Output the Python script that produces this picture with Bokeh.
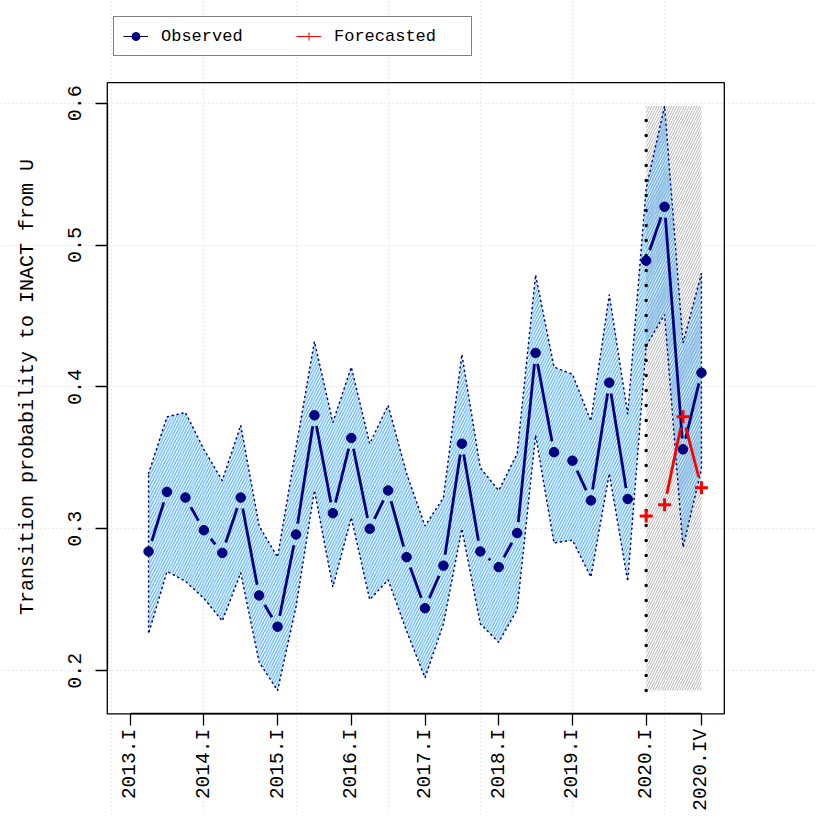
import math
import numpy as np
from bokeh.plotting import figure
from bokeh.models import (Range1d, LinearAxis, FixedTicker, Legend, LegendItem,
                          ColumnDataSource, Grid)
from bokeh.embed import file_html
from bokeh.resources import INLINE

# ---------------- data ----------------
quarter_idx = list(range(2, 33))          # 2013.II ... 2020.IV  (2013.I = 1)
observed = [0.284, 0.326, 0.322, 0.299, 0.283, 0.322, 0.253, 0.231, 0.296, 0.380,
            0.311, 0.364, 0.300, 0.327, 0.280, 0.244, 0.274, 0.360, 0.284, 0.273,
            0.297, 0.424, 0.354, 0.348, 0.320, 0.403, 0.321, 0.489, 0.527, 0.356,
            0.410]
upper = [0.339, 0.379, 0.382, 0.356, 0.334, 0.373, 0.302, 0.280, 0.357, 0.432,
         0.375, 0.414, 0.360, 0.387, 0.339, 0.302, 0.322, 0.423, 0.343, 0.327,
         0.353, 0.479, 0.414, 0.409, 0.376, 0.465, 0.381, 0.540, 0.598, 0.431,
         0.480]
lower = [0.226, 0.270, 0.263, 0.251, 0.235, 0.269, 0.206, 0.186, 0.245, 0.327,
         0.259, 0.308, 0.250, 0.264, 0.228, 0.195, 0.233, 0.300, 0.233, 0.220,
         0.243, 0.366, 0.290, 0.292, 0.266, 0.339, 0.263, 0.429, 0.451, 0.287,
         0.342]
forecast_idx = [29, 30, 31, 32]
forecast = [0.309, 0.317, 0.379, 0.329]
tick_idx = [1, 5, 9, 13, 17, 21, 25, 29, 32]
tick_labels = ["2013.I", "2014.I", "2015.I", "2016.I", "2017.I", "2018.I",
               "2019.I", "2020.I", "2020.IV"]
y_ticks = [0.2, 0.3, 0.4, 0.5, 0.6]
x_grid = [0, 5, 10, 15, 20, 25, 30]
first_forecast = 29

# ---------------- layout ----------------
W = H = 814
X_RANGE = (-6.034, 38.134)
Y_RANGE = (0.0986, 0.6724)
FONT = "Liberation Mono"
NAVY = "#000080"
RED = "#FF0000"

# R-style plot region (4% padding around the data)
xmin, xmax = min(tick_idx), max(tick_idx)
ymin, ymax = min(lower), max(upper)
px_ = 0.04 * (xmax - xmin)
py_ = 0.04 * (ymax - ymin)
usr = (xmin - px_, xmax + px_, ymin - py_, ymax + py_)

p = figure(width=W, height=H, x_range=Range1d(*X_RANGE), y_range=Range1d(*Y_RANGE),
           output_backend="svg", toolbar_location=None, min_border=0,
           x_axis_type=None, y_axis_type=None)
p.outline_line_color = None
p.background_fill_color = "white"
p.border_fill_color = "white"

# grid (spans whole device like R with xpd=TRUE)
gx = Grid(dimension=0, ticker=FixedTicker(ticks=x_grid), grid_line_color="#D3D3D3",
          grid_line_dash="1 3", grid_line_width=1)
gy = Grid(dimension=1, ticker=FixedTicker(ticks=y_ticks), grid_line_color="#D3D3D3",
          grid_line_dash="1 3", grid_line_width=1)
p.add_layout(gx)
p.add_layout(gy)

# grey forecast window
p.quad(left=[first_forecast], right=[max(quarter_idx)], bottom=[ymin], top=[ymax],
       fill_alpha=0, line_color=None, hatch_pattern="/", hatch_color="#B4B4B4",
       hatch_scale=5, hatch_weight=1.0)

# confidence band
band_x = quarter_idx + quarter_idx[::-1]
band_y = upper + lower[::-1]
p.patch(band_x, band_y, fill_alpha=0, hatch_pattern="/", hatch_color="#5CB3F5",
        hatch_scale=5.5, hatch_weight=1.3, line_color=NAVY, line_width=1.5,
        line_dash="1 4", line_cap="round")

# vertical dotted line at the forecast start
p.segment(x0=[first_forecast], y0=[ymin], x1=[first_forecast], y1=[ymax],
          line_color="black", line_width=3.5, line_dash="0 15", line_cap="round")


def gapped(xs, ys, gap_px=11.0):
    kx = W / (X_RANGE[1] - X_RANGE[0])
    ky = H / (Y_RANGE[1] - Y_RANGE[0])
    out = dict(x0=[], y0=[], x1=[], y1=[])
    for a in range(len(xs) - 1):
        ddx = xs[a + 1] - xs[a]
        ddy = ys[a + 1] - ys[a]
        L = float(np.hypot(ddx * kx, ddy * ky))
        if L <= 2 * gap_px:
            continue
        f = gap_px / L
        out["x0"].append(xs[a] + f * ddx)
        out["y0"].append(ys[a] + f * ddy)
        out["x1"].append(xs[a + 1] - f * ddx)
        out["y1"].append(ys[a + 1] - f * ddy)
    return ColumnDataSource(out)


k = quarter_idx.index(first_forecast)
for xs, ys in [(quarter_idx[:k], observed[:k]), (quarter_idx[k:], observed[k:])]:
    p.segment(x0="x0", y0="y0", x1="x1", y1="y1", source=gapped(xs, ys),
              line_color=NAVY, line_width=2.8)
p.scatter(quarter_idx, observed, marker="circle", size=9.5, fill_color=NAVY,
          line_color=NAVY)

p.segment(x0="x0", y0="y0", x1="x1", y1="y1", source=gapped(forecast_idx, forecast),
          line_color=RED, line_width=2.8)
p.scatter(forecast_idx, forecast, marker="cross", size=13, line_color=RED,
          line_width=3)

# plot box
p.quad(left=[usr[0]], right=[usr[1]], bottom=[usr[2]], top=[usr[3]], fill_alpha=0,
       line_color="black", line_width=1.3)

# axes at fixed locations on the box
xaxis = LinearAxis(ticker=FixedTicker(ticks=tick_idx),
                   major_label_overrides={t: l for t, l in zip(tick_idx, tick_labels)},
                   fixed_location=usr[2], bounds=(min(tick_idx), max(tick_idx)),
                   major_label_orientation=math.pi / 2)
yaxis = LinearAxis(ticker=FixedTicker(ticks=y_ticks), fixed_location=usr[0],
                   bounds=(min(y_ticks), max(y_ticks)),
                   major_label_orientation="vertical",
                   axis_label="Transition probability to INACT from U")
for ax in (xaxis, yaxis):
    ax.axis_line_color = "black"
    ax.axis_line_width = 1.3
    ax.major_tick_line_color = "black"
    ax.major_tick_line_width = 1.3
    ax.major_tick_out = 12
    ax.major_tick_in = 0
    ax.minor_tick_out = 0
    ax.minor_tick_in = 0
    ax.major_label_text_font = FONT
    ax.major_label_text_font_size = "20px"
    ax.major_label_text_color = "black"
    ax.axis_label_text_font = FONT
    ax.axis_label_text_font_size = "20px"
    ax.axis_label_text_font_style = "normal"
    ax.axis_label_text_color = "black"
xaxis.major_label_standoff = 3
xaxis.major_label_text_font_size = "19.5px"
yaxis.major_label_standoff = 14
yaxis.axis_label_standoff = 27
p.add_layout(xaxis, "below")
p.add_layout(yaxis, "left")

# legend (legend-only renderers, placed outside the visible ranges)
off = [-100.0]
l_obs = p.line(x=off, y=off, line_color=NAVY, line_width=1)
s_obs = p.scatter(x=off, y=off, marker="circle", fill_color=NAVY, line_color=NAVY)
l_fc = p.line(x=off, y=off, line_color=RED, line_width=1)
s_fc = p.scatter(x=off, y=off, marker="cross", line_color=RED, line_width=1)
legend = Legend(items=[LegendItem(label="Observed", renderers=[l_obs, s_obs]),
                       LegendItem(label="Forecasted", renderers=[l_fc, s_fc])],
                orientation="horizontal", location=(113, 758),
                label_text_font=FONT, label_text_font_size="17px",
                label_text_color="black", padding=9, spacing=7, margin=0,
                glyph_width=25, glyph_height=20, label_height=20, label_width=128,
                label_standoff=13, border_line_color="black", border_line_width=1.3,
                background_fill_color="white", background_fill_alpha=1.0)
p.add_layout(legend)

open("out.html", "w").write(file_html(p, INLINE))
